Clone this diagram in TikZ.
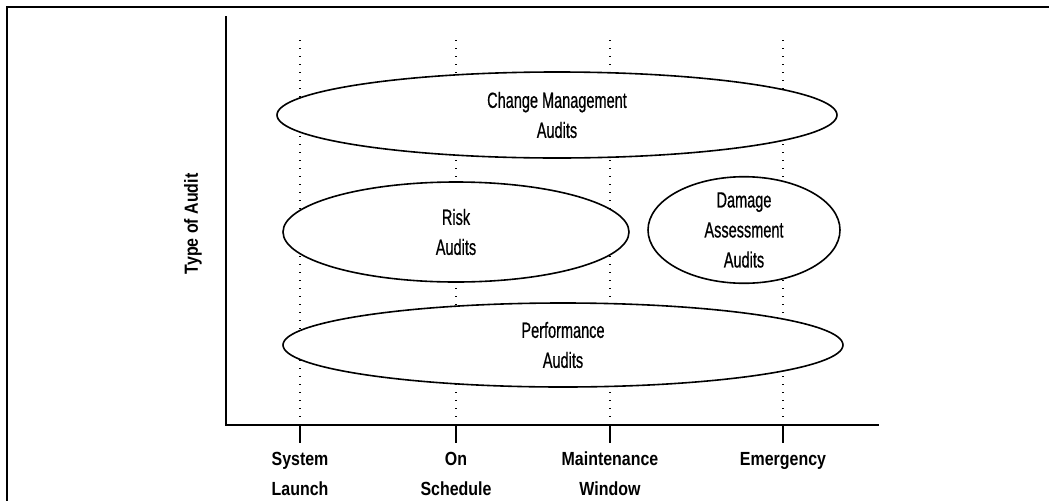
\documentclass[tikz,border=0pt]{standalone}
\usepackage{fontspec}
\newfontfamily\auditfont[FakeStretch=0.66, FakeBold=0.6]{Liberation Sans}
\newfontfamily\axisfont[FakeStretch=0.84]{Liberation Sans}
\usetikzlibrary{shapes.geometric}

\tikzset{
    audit/.style={ellipse, draw, fill=white, line width=1.6pt, inner sep=0pt, align=center,
        font=\auditfont\fontsize{22}{30}\selectfont},
    axislabel/.style={align=center, inner sep=0pt, font=\axisfont\bfseries\fontsize{19}{30}\selectfont},
    guide/.style={line width=1.4pt, dash pattern=on 1.4pt off 6.6pt},
}

\begin{document}
\begin{tikzpicture}[x=1pt, y=-1pt]

    \useasboundingbox (0,0) rectangle (1049,501);

    % outer frame (open to the right and bottom)
    \draw[line width=1.8pt] (1049,7) -- (7,7) -- (7,501);

    % axes
    \coordinate (origin) at (226,425);
    \coordinate (ytop)   at (226,16);
    \coordinate (xend)   at (879,425);
    \draw[line width=2.4pt] (ytop) -- (origin) -- (xend);
    \node[axislabel, rotate=90] (ylab) at (193,224) {Type of Audit};

    % time points: dotted guide, tick and label
    \foreach \x/\name/\txt in {300/launch/System\\Launch, 456/sched/On\\Schedule,
                               610/maint/Maintenance\\Window, 783/emerg/Emergency}
    {
        \coordinate (top-\name)  at (\x,40);
        \coordinate (ax-\name)   at (\x,425);
        \coordinate (tick-\name) at (\x,443);
        \draw[guide] (top-\name) -- (ax-\name);
        \draw[line width=1.5pt] (ax-\name) -- (tick-\name);
        \node[axislabel, anchor=north, yshift=-9pt] (lab-\name) at (tick-\name) {\txt};
    }

    % audit types
    \node[audit, minimum width=560pt, minimum height=86pt]  (change) at (557,115) {Change Management\\Audits};
    \node[audit, minimum width=346pt, minimum height=100pt] (risk)   at (456,232) {Risk\\Audits};
    \node[audit, minimum width=192pt, minimum height=106pt] (damage) at (744,230) {Damage\\Assessment\\Audits};
    \node[audit, minimum width=560pt, minimum height=84pt]  (perf)   at (563,345) {Performance\\Audits};

\end{tikzpicture}
\end{document}
